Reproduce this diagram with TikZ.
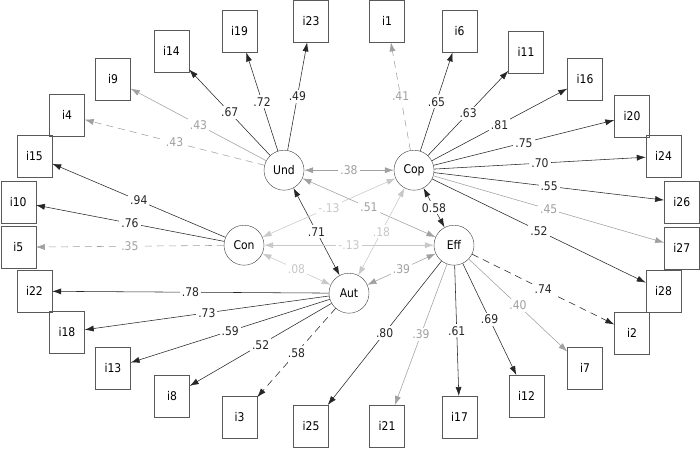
\documentclass[tikz,border=0pt]{standalone}
\usepackage{fontspec}
\setmainfont{DejaVu Sans Condensed}
\usepackage{xcolor}
\usepackage{tikz}
\usetikzlibrary{
	arrows.meta,
	positioning,
	}

\definecolor{pale}{HTML}{A0A0A0}
\definecolor{faint}{HTML}{C8C8C8}

\begin{document}
\begin{tikzpicture}[x=1pt,y=1pt,
	font=\fontsize{12}{14}\selectfont,
	latent/.style={circle,draw=black!75,minimum size=40pt,inner sep=0pt},
	item/.style={rectangle,draw=black!65,minimum width=35pt,minimum height=42pt,inner sep=0pt},
	load/.style={-{Latex[length=9pt,width=6pt]},line width=0.55pt,color=black!85},
	cov/.style={{Latex[length=9pt,width=6pt]}-{Latex[length=9pt,width=6pt]},line width=0.55pt,color=black!85},
	paleline/.style={color=pale},
	faintline/.style={color=faint},
	broken/.style={dash pattern=on 7pt off 5pt},
	est/.style={fill=white,inner sep=2pt},
	]
	\fill[white] (0,0) rectangle (700,-448);

	% factors
	\node[latent] (und) at (284,-170) {Und};
	\node[latent] (cop) at (414,-170) {Cop};
	\node[latent] (con) at (244,-245) {Con};
	\node[latent] (eff) at (454,-245) {Eff};
	\node[latent] (aut) at (349,-293) {Aut};

	% items, left half
	\node[item] (i23) at (311,-21) {i23};
	\node[item] (i19) at (239.5,-31) {i19};
	\node[item] (i14) at (171.5,-50.5) {i14};
	\node[item] (i9) at (113,-79) {i9};
	\node[item] (i4) at (67,-115) {i4};
	\node[item] (i15) at (34.5,-156) {i15};
	\node[item] (i10) at (18.2,-201.5) {i10};
	\node[item] (i5) at (18.2,-247) {i5};
	\node[item] (i22) at (34.5,-291) {i22};
	\node[item] (i18) at (67,-332) {i18};
	\node[item] (i13) at (113,-368) {i13};
	\node[item] (i8) at (172,-396) {i8};
	\node[item] (i3) at (239.5,-417) {i3};
	\node[item] (i25) at (311,-426) {i25};

	% items, right half
	\node[item] (i1) at (387,-21) {i1};
	\node[item] (i6) at (459.5,-31) {i6};
	\node[item] (i11) at (526,-52) {i11};
	\node[item] (i16) at (585,-79) {i16};
	\node[item] (i20) at (632,-115.5) {i20};
	\node[item] (i24) at (663.5,-156) {i24};
	\node[item] (i26) at (681.8,-202) {i26};
	\node[item] (i27) at (681.8,-247.5) {i27};
	\node[item] (i28) at (663.5,-291) {i28};
	\node[item] (i2) at (632,-333) {i2};
	\node[item] (i7) at (585,-368) {i7};
	\node[item] (i12) at (526.5,-396) {i12};
	\node[item] (i17) at (459.5,-417) {i17};
	\node[item] (i21) at (387,-426) {i21};

	% loadings
	\draw[load] (und) -- node[est] {.49} (i23);
	\draw[load] (und) -- node[est] {.72} (i19);
	\draw[load] (und) -- node[est] {.67} (i14);
	\draw[load,paleline] (und) -- node[est] {.43} (i9);
	\draw[load,paleline,broken] (und) -- node[est] {.43} (i4);

	\draw[load] (con) -- node[est] {.94} (i15);
	\draw[load] (con) -- node[est] {.76} (i10);
	\draw[load,paleline,broken] (con) -- node[est] {.35} (i5);

	\draw[load] (aut) -- node[est] {.78} (i22);
	\draw[load] (aut) -- node[est] {.73} (i18);
	\draw[load] (aut) -- node[est] {.59} (i13);
	\draw[load] (aut) -- node[est] {.52} (i8);
	\draw[load,broken] (aut) -- node[est] {.58} (i3);

	\draw[load] (eff) -- node[est] {.80} (i25);
	\draw[load,paleline] (eff) -- node[est] {.39} (i21);
	\draw[load] (eff) -- node[est] {.61} (i17);
	\draw[load] (eff) -- node[est] {.69} (i12);
	\draw[load,paleline] (eff) -- node[est] {.40} (i7);
	\draw[load,broken] (eff) -- node[est] {.74} (i2);

	\draw[load,paleline,broken] (cop) -- node[est] {.41} (i1);
	\draw[load] (cop) -- node[est] {.65} (i6);
	\draw[load] (cop) -- node[est] {.63} (i11);
	\draw[load] (cop) -- node[est] {.81} (i16);
	\draw[load] (cop) -- node[est] {.75} (i20);
	\draw[load] (cop) -- node[est] {.70} (i24);
	\draw[load] (cop) -- node[est] {.55} (i26);
	\draw[load,paleline] (cop) -- node[est] {.45} (i27);
	\draw[load] (cop) -- node[est] {.52} (i28);

	% correlations
	\draw[cov,paleline] (und) -- node[est] {.38} (cop);
	\draw[cov] (und) -- node[est] {.71} (aut);
	\draw[cov,paleline] (und) -- node[est] {.51} (eff);
	\draw[cov,faintline] (con) -- node[est] {-.13} (cop);
	\draw[cov,faintline] (cop) -- node[est] {.18} (aut);
	\draw[cov] (cop) -- node[est] {0.58} (eff);
	\draw[cov,faintline] (con) -- node[est] {-.13} (eff);
	\draw[cov,faintline] (con) -- node[est] {.08} (aut);
	\draw[cov,paleline] (aut) -- node[est] {.39} (eff);
\end{tikzpicture}
\end{document}
